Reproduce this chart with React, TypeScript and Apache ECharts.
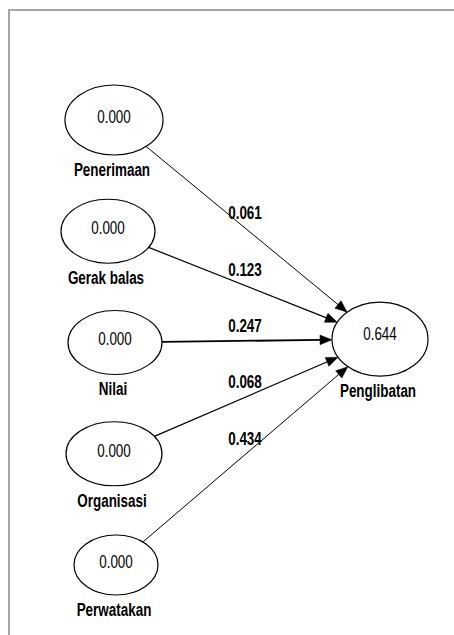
import React, { useEffect, useRef } from "react";
import * as echarts from "echarts";

// ---- data ----
const exogenousNames = ["Penerimaan", "Gerak balas", "Nilai", "Organisasi", "Perwatakan"];
const exogenousValues = [0.0, 0.0, 0.0, 0.0, 0.0];
const endogenousName = "Penglibatan";
const endogenousValue = 0.644;
const pathCoefficients = [0.061, 0.123, 0.247, 0.068, 0.434];

// ---- layout / style (not data) ----
const targetRow = 1.97;
const labelColumn = 0.4925;
const nodeRadii = [
  [49, 35],
  [47, 32],
  [47, 32],
  [48, 32],
  [42, 30],
];
const targetRadii = [48, 37];
const nodeShiftX = [0, -6, 1, 0, 2];
const edgeWidths = [1, 1.2, 1.8, 1.2, 1];
const FONT = "'Liberation Sans', Arial, sans-serif";
const TEXT_SX = 0.84;
const TEXT_SY = 1.14;

function radiiOf(idx: number) {
  return idx < exogenousNames.length ? nodeRadii[idx] : targetRadii;
}
function shiftOf(idx: number) {
  return idx < exogenousNames.length ? nodeShiftX[idx] : 0;
}
function txt(x: number, y: number, text: string, bold: boolean) {
  return {
    type: "text",
    x,
    y,
    scaleX: TEXT_SX,
    scaleY: TEXT_SY,
    style: {
      text,
      fontFamily: FONT,
      fontSize: 16,
      fontWeight: bold ? "bold" : "normal",
      fill: "#000",
      align: "center",
      verticalAlign: "middle",
    },
  };
}

export default function App() {
  const ref = useRef<HTMLDivElement>(null);

  useEffect(() => {
    if (!ref.current) return;
    const chart = echarts.init(ref.current, undefined, { renderer: "svg" });

    const nodeData = [
      ...exogenousValues.map((v, i) => [0, i, v, i]),
      [1, targetRow, endogenousValue, exogenousNames.length],
    ];
    const edgeData = pathCoefficients.map((c, i) => [0, i, 1, targetRow, c, i]);

    const option: any = {
      animation: false,
      backgroundColor: "#ffffff",
      grid: { left: 114, right: 74, top: 120, bottom: 70 },
      xAxis: { type: "value", min: 0, max: 1, show: false },
      yAxis: { type: "value", min: 0, max: 4, inverse: true, show: false },
      graphic: [
        {
          type: "polyline",
          shape: { points: [[9, 635], [9, 10], [454, 10]] },
          style: { stroke: "#a6a6a6", lineWidth: 2, fill: "none" },
          silent: true,
        },
      ],
      series: [
        {
          type: "custom",
          name: "paths",
          data: edgeData,
          z: 2,
          renderItem: (params: any, api: any) => {
            const i = api.value(5);
            const s = api.coord([api.value(0), api.value(1)]);
            const t = api.coord([api.value(2), api.value(3)]);
            const sx = s[0] + shiftOf(i);
            const sy = s[1];
            const tx = t[0];
            const ty = t[1];
            const dx = tx - sx;
            const dy = ty - sy;
            const len = Math.sqrt(dx * dx + dy * dy);
            const ux = dx / len;
            const uy = dy / len;
            const [srx, sry] = radiiOf(i);
            const [trx, try_] = targetRadii;
            const t0 = 1 / Math.sqrt((dx / srx) ** 2 + (dy / sry) ** 2);
            const t1 = 1 / Math.sqrt((dx / trx) ** 2 + (dy / try_) ** 2);
            const x0 = sx + dx * t0;
            const y0 = sy + dy * t0;
            const tipX = tx - dx * t1;
            const tipY = ty - dy * t1;
            const aLen = 12;
            const aHalf = 4.8;
            const bx = tipX - ux * aLen;
            const by = tipY - uy * aLen;
            const nx = -uy;
            const ny = ux;
            const lx = api.coord([labelColumn, 0])[0];
            const ly = sy + ((lx - sx) * dy) / dx - 16;
            return {
              type: "group",
              children: [
                {
                  type: "line",
                  shape: { x1: x0, y1: y0, x2: bx + ux, y2: by + uy },
                  style: { stroke: "#000", lineWidth: edgeWidths[i] },
                },
                {
                  type: "polygon",
                  shape: {
                    points: [
                      [tipX, tipY],
                      [bx + nx * aHalf, by + ny * aHalf],
                      [bx - nx * aHalf, by - ny * aHalf],
                    ],
                  },
                  style: { fill: "#000", stroke: "#000", lineWidth: 0.5 },
                },
                txt(lx, ly, api.value(4).toFixed(3), true),
              ],
            };
          },
        },
        {
          type: "custom",
          name: "constructs",
          data: nodeData,
          z: 3,
          renderItem: (params: any, api: any) => {
            const idx = api.value(3);
            const p = api.coord([api.value(0), api.value(1)]);
            const [rx, ry] = radiiOf(idx);
            const cx = p[0] + shiftOf(idx);
            const cy = p[1];
            const isTarget = idx >= exogenousNames.length;
            const name = isTarget ? endogenousName : exogenousNames[idx];
            return {
              type: "group",
              children: [
                {
                  type: "ellipse",
                  shape: { cx, cy, rx, ry },
                  style: { fill: "#ffffff", stroke: "#000", lineWidth: 1.2 },
                },
                txt(cx, cy - (isTarget ? 6 : 4), api.value(2).toFixed(3), false),
                txt(cx - 2, cy + ry + 14, name, true),
              ],
            };
          },
        },
      ],
    };

    chart.setOption(option);
    return () => chart.dispose();
  }, []);

  return (
    <div
      ref={ref}
      style={{ position: "fixed", left: 0, top: 0, width: 454, height: 635, background: "#fff" }}
    />
  );
}
